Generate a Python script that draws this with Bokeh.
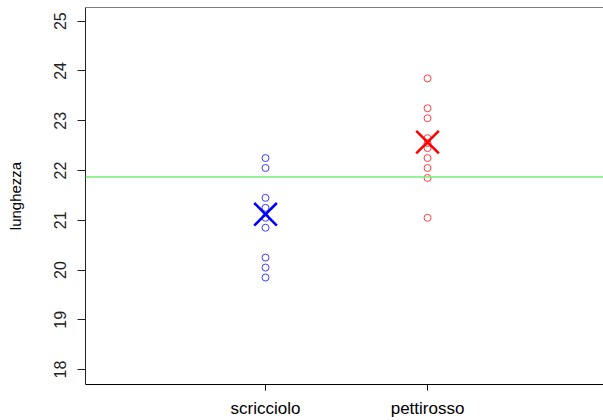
from bokeh.plotting import figure
from bokeh.models import FixedTicker, Span, Range1d, ColumnDataSource
from bokeh.embed import file_html
from bokeh.resources import INLINE

# ---- data ----
categories = ["scricciolo", "pettirosso"]
cat_pos = [1, 2]
scricciolo = [22.25, 22.05, 21.45, 21.25, 21.05, 20.85, 20.25, 20.05, 19.85]
pettirosso = [23.85, 23.25, 23.05, 22.65, 22.55, 22.45, 22.25, 22.05, 21.85, 21.05]
group_means = [21.12, 22.57]
grand_mean = 21.87
y_ticks = [18, 19, 20, 21, 22, 23, 24, 25]

FONT = "Liberation Sans"
Y_TOP = 25.275

p = figure(width=603, height=420, output_backend="svg", toolbar_location=None,
           x_range=Range1d(-0.111, 3.086), y_range=Range1d(17.70, Y_TOP),
           min_border_left=85, min_border_right=0, min_border_top=7,
           min_border_bottom=36)
p.outline_line_color = None
p.grid.visible = False
p.background_fill_color = "white"

# top border of the box
p.add_layout(Span(location=Y_TOP, dimension="width", line_color="black", line_width=1))

# grand mean line
p.add_layout(Span(location=grand_mean, dimension="width", line_color="#74ee74", line_width=1.6))

src_w = ColumnDataSource(dict(x=[cat_pos[0]] * len(scricciolo), y=scricciolo))
src_r = ColumnDataSource(dict(x=[cat_pos[1]] * len(pettirosso), y=pettirosso))
p.scatter("x", "y", source=src_w, marker="circle", size=7, fill_color=None,
          line_color="#3c3cff", line_width=1)
p.scatter("x", "y", source=src_r, marker="circle", size=7, fill_color=None,
          line_color="#ff3c3c", line_width=1)

p.scatter(cat_pos, group_means, marker="x", size=32, line_width=2.6,
          line_color=["#0000ff", "#ff0000"])

# y axis
ya = p.yaxis[0]
ya.ticker = FixedTicker(ticks=y_ticks)
ya.minor_tick_line_color = None
ya.major_tick_out = 8
ya.major_tick_in = 0
ya.major_label_orientation = "vertical"
ya.major_label_standoff = 11
ya.major_label_text_font = FONT
ya.major_label_text_font_size = "16px"
ya.major_label_text_color = "#222222"
ya.axis_line_color = "#222222"
ya.major_tick_line_color = "#222222"
ya.axis_label = "lunghezza"
ya.axis_label_text_font = FONT
ya.axis_label_text_font_size = "15px"
ya.axis_label_text_font_style = "normal"
ya.axis_label_text_color = "black"
ya.axis_label_standoff = 28

# x axis
xa = p.xaxis[0]
xa.ticker = FixedTicker(ticks=cat_pos)
xa.major_label_overrides = {c: n for c, n in zip(cat_pos, categories)}
xa.minor_tick_line_color = None
xa.major_tick_out = 6
xa.major_tick_in = 0
xa.major_label_standoff = 8
xa.major_label_text_font = FONT
xa.major_label_text_font_size = "17px"
xa.major_label_text_color = "black"
xa.axis_line_color = "black"
xa.major_tick_line_color = "black"

open("out.html", "w").write(file_html(p, INLINE))
